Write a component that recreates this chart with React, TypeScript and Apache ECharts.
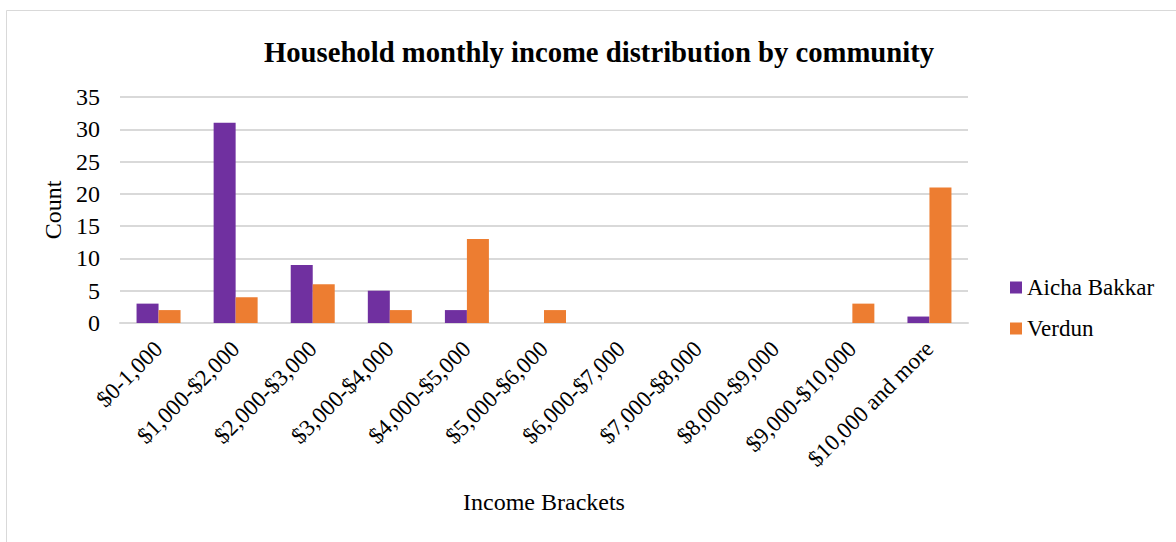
import React, { useEffect, useRef } from "react";
import * as echarts from "echarts";

const categories = [
  "$0-1,000",
  "$1,000-$2,000",
  "$2,000-$3,000",
  "$3,000-$4,000",
  "$4,000-$5,000",
  "$5,000-$6,000",
  "$6,000-$7,000",
  "$7,000-$8,000",
  "$8,000-$9,000",
  "$9,000-$10,000",
  "$10,000 and more",
];
const aichaBakkar = [3, 31, 9, 5, 2, 0, 0, 0, 0, 0, 1];
const verdun = [2, 4, 6, 2, 13, 2, 0, 0, 0, 3, 21];
const seriesNames = ["Aicha Bakkar", "Verdun"];

const FONT = "'Liberation Serif', 'Times New Roman', serif";

export default function App() {
  const ref = useRef<HTMLDivElement>(null);
  useEffect(() => {
    if (!ref.current) return;
    const chart = echarts.init(ref.current, null, { renderer: "svg" });
    chart.setOption({
      animation: false,
      backgroundColor: "#ffffff",
      textStyle: { fontFamily: FONT },
      graphic: [
        {
          type: "rect",
          shape: { x: 6.5, y: 10.5, width: 1200, height: 600 },
          style: { fill: "none", stroke: "#d9d9d9", lineWidth: 1 },
          silent: true,
        },
      ],
      title: {
        text: "Household monthly income distribution by community",
        left: 594,
        textAlign: "center",
        top: 32,
        textStyle: { fontFamily: FONT, fontSize: 28.7, fontWeight: "bold", color: "#000" },
      },
      legend: {
        orient: "vertical",
        left: 1010,
        top: 276,
        padding: 0,
        itemGap: 18,
        itemWidth: 12,
        itemHeight: 12,
        icon: "rect",
        textStyle: { fontFamily: FONT, fontSize: 23, color: "#000" },
        data: seriesNames,
      },
      grid: { left: 120, right: 208, top: 97, bottom: 219, containLabel: false },
      xAxis: {
        type: "category",
        data: categories,
        name: "Income Brackets",
        nameLocation: "middle",
        nameGap: 167,
        nameTextStyle: { fontFamily: FONT, fontSize: 24, color: "#000" },
        axisLine: { lineStyle: { color: "#d9d9d9", width: 2 } },
        axisTick: { show: false },
        axisLabel: {
          rotate: 45,
          interval: 0,
          margin: 22,
          fontFamily: FONT,
          fontSize: 23,
          color: "#000",
        },
      },
      yAxis: {
        type: "value",
        min: 0,
        max: 35,
        interval: 5,
        name: "Count",
        nameLocation: "middle",
        nameGap: 55,
        nameTextStyle: { fontFamily: FONT, fontSize: 24, color: "#000" },
        axisLine: { show: false },
        axisTick: { show: false },
        axisLabel: { fontFamily: FONT, fontSize: 24, color: "#000", margin: 20 },
        splitLine: { lineStyle: { color: "#d9d9d9", width: 2 } },
      },
      series: [
        {
          name: seriesNames[0],
          type: "bar",
          data: aichaBakkar,
          barWidth: 22,
          barGap: "0%",
          itemStyle: { color: "#7030A0" },
        },
        {
          name: seriesNames[1],
          type: "bar",
          data: verdun,
          barWidth: 22,
          barGap: "0%",
          itemStyle: { color: "#ED7D31" },
        },
      ],
    });
    return () => chart.dispose();
  }, []);
  return (
    <div
      ref={ref}
      style={{ position: "fixed", left: 0, top: 0, width: 1176, height: 542 }}
    />
  );
}
